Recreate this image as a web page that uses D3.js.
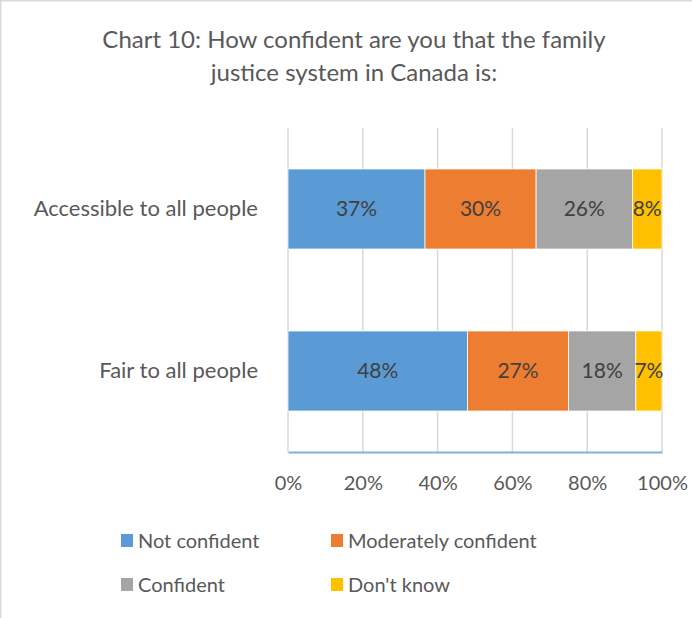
<!DOCTYPE html>
<html>
<head>
<meta charset="utf-8">
<script src="https://cdn.jsdelivr.net/npm/d3@7"></script>
<style>
  html, body { margin: 0; padding: 0; background: #fff; }
  svg { display: block; }
  text { font-family: Lato, "Open Sans", sans-serif; }
</style>
</head>
<body>
<svg id="chart" width="692" height="618"></svg>
<script>
// Survey responses: share of respondents per confidence level
const categories = ["Accessible to all people", "Fair to all people"];
const seriesNames = ["Not confident", "Moderately confident", "Confident", "Don't know"];
const notConfident = [37, 48];
const moderatelyConfident = [30, 27];
const confident = [26, 18];
const dontKnow = [8, 7];
const tickValues = [0, 0.2, 0.4, 0.6, 0.8, 1.0];
const titleLines = ["Chart 10: How confident are you that the family", "justice system in Canada is:"];

const colors = ["#5B9BD5", "#ED7D31", "#A5A5A5", "#FFC000"];
const textColor = "#595959";

const rows = categories.map((c, i) => ({
  category: c,
  "Not confident": notConfident[i],
  "Moderately confident": moderatelyConfident[i],
  "Confident": confident[i],
  "Don't know": dontKnow[i]
}));

const svg = d3.select("#chart");
const W = 692, H = 618;

// chart frame edges
svg.append("line").attr("x1", 0.5).attr("x2", 0.5).attr("y1", 0).attr("y2", H)
  .attr("stroke", "#d9d9d9").attr("stroke-width", 2);
svg.append("line").attr("x1", 0).attr("x2", W).attr("y1", 0.5).attr("y2", 0.5)
  .attr("stroke", "#d9d9d9").attr("stroke-width", 2);

// title
svg.append("g").selectAll("text").data(titleLines).join("text")
  .attr("x", 354).attr("y", (d, i) => 48 + i * 33)
  .attr("text-anchor", "middle")
  .attr("fill", textColor)
  .attr("font-size", 24)
  .text(d => d);

const plot = { left: 288, right: 662, top: 128, bottom: 452 };

const x = d3.scaleLinear().domain([0, 1]).range([plot.left, plot.right]);
const y = d3.scaleBand().domain(categories).range([plot.top, plot.bottom])
  .paddingInner(0.506).paddingOuter(0.253);

// vertical gridlines
svg.append("g").selectAll("line").data(tickValues).join("line")
  .attr("x1", d => x(d)).attr("x2", d => x(d))
  .attr("y1", plot.top).attr("y2", plot.bottom)
  .attr("stroke", "#d9d9d9").attr("stroke-width", 1.5);

// stacked, normalised to 100%
const stack = d3.stack().keys(seriesNames).offset(d3.stackOffsetExpand);
const layers = stack(rows);

const g = svg.append("g");
layers.forEach((layer, li) => {
  g.append("g").selectAll("rect").data(layer).join("rect")
    .attr("x", d => x(d[0]))
    .attr("y", d => y(d.data.category))
    .attr("width", d => x(d[1]) - x(d[0]))
    .attr("height", y.bandwidth())
    .attr("fill", colors[li])
    .attr("stroke", "#fff").attr("stroke-width", 0.75);
});

// data labels
layers.forEach((layer, li) => {
  g.append("g").selectAll("text").data(layer).join("text")
    .attr("x", d => (x(d[0]) + x(d[1])) / 2)
    .attr("y", d => y(d.data.category) + y.bandwidth() / 2)
    .attr("dy", "0.35em")
    .attr("text-anchor", "middle")
    .attr("fill", "#404040")
    .attr("font-size", 21)
    .text(d => d.data[layer.key] + "%");
});

// bottom axis
const xAxis = d3.axisBottom(x).tickValues(tickValues).tickFormat(d3.format(".0%")).tickSize(0).tickPadding(0);
const ax = svg.append("g").attr("transform", `translate(0,${plot.bottom})`).call(xAxis);
ax.select(".domain").attr("stroke", "#7EB0E0").attr("stroke-width", 2);
ax.selectAll(".tick text")
  .attr("y", 31).attr("dy", "0.35em")
  .attr("fill", textColor).attr("font-size", 20)
  .style("font-family", "Lato, sans-serif");

// category axis
const yAxis = d3.axisLeft(y).tickSize(0).tickPadding(30);
const ay = svg.append("g").attr("transform", `translate(${plot.left},0)`).call(yAxis);
ay.select(".domain").remove();
ay.selectAll(".tick text")
  .attr("fill", textColor).attr("font-size", 22)
  .style("font-family", "Lato, sans-serif");

// legend
const legendX = [121, 331];
const legendY = [541, 585];
const legend = svg.append("g").selectAll("g").data(seriesNames).join("g")
  .attr("transform", (d, i) => `translate(${legendX[i % 2]},${legendY[Math.floor(i / 2)]})`);
legend.append("rect").attr("x", 0).attr("y", -7).attr("width", 12).attr("height", 13)
  .attr("fill", (d, i) => colors[i]);
legend.append("text").attr("x", 17).attr("dy", "0.35em")
  .attr("fill", textColor).attr("font-size", 20)
  .text(d => d);
</script>
</body>
</html>
